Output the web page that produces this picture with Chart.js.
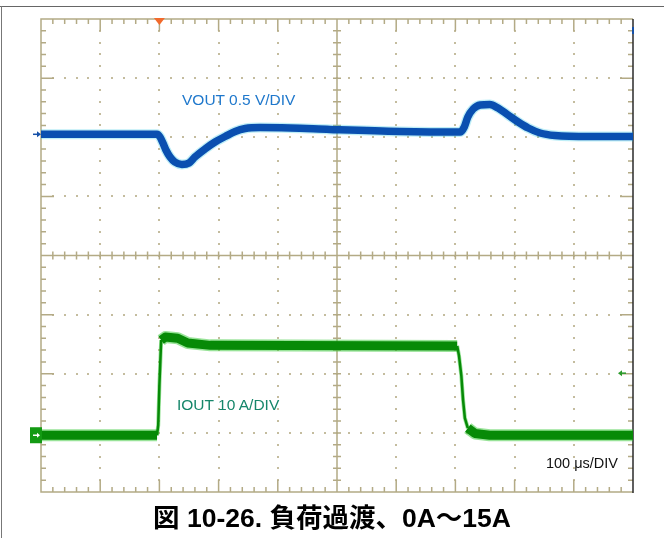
<!DOCTYPE html>
<html lang="ja">
<head>
<meta charset="utf-8">
<title>負荷過渡 0A～15A</title>
<script src="https://cdn.jsdelivr.net/npm/chart.js@4.4.0/dist/chart.umd.min.js"></script>
<style>
  html, body { margin: 0; padding: 0; background: #fff; }
  #wrap { position: relative; width: 664px; height: 538px; overflow: hidden; font-family: "Liberation Sans", Arial, sans-serif; }
  #wrap canvas { position: absolute; left: 0; top: 0; }
  .rule-top { position: absolute; left: 0; top: 6px; width: 664px; height: 1px; background: #666; }
  .rule-left { position: absolute; left: 1px; top: 6px; width: 1px; height: 532px; background: #777; }
  .lbl { position: absolute; white-space: nowrap; line-height: 1; }
  #vlbl { left: 182px; top: 92px; font-size: 15.5px; color: #1f78cc; }
  #ilbl { left: 177px; top: 397px; font-size: 15.5px; color: #16866a; }
  #tlbl { right: 46px; top: 456px; font-size: 14.5px; color: #111; }
  #caption { left: 0; width: 664px; top: 505px; text-align: center; font-size: 26.5px; font-weight: bold; color: #000;
             font-family: "Liberation Sans", "Noto Sans CJK JP", sans-serif; }
</style>
</head>
<body>
<div id="wrap">
  <canvas id="scope" width="664" height="538"></canvas>
  <div class="rule-top"></div>
  <div class="rule-left"></div>
  <div class="lbl" id="vlbl">VOUT 0.5 V/DIV</div>
  <div class="lbl" id="ilbl">IOUT 10 A/DIV</div>
  <div class="lbl" id="tlbl">100 μs/DIV</div>
  <div class="lbl" id="caption">図 10-26. 負荷過渡、0A～15A</div>
</div>
<script>
// time in µs, trigger at 0
const vTime = [-200, -4, 1, 6, 11, 18, 26, 38, 50, 60, 77, 94, 111, 128, 145, 170, 221, 288, 406, 508,
               515, 521, 530, 542, 558, 572, 589, 606, 623, 643, 668, 727, 800];
// VOUT deviation from nominal, mV
const vOut  = [0, 0, -23, -74, -133, -192, -234, -255, -243, -192, -124, -65, -19, 24, 49, 57, 53, 41, 24, 19,
               62, 146, 214, 248, 252, 222, 163, 104, 53, 11, -10, -19, -19];

const iTime = [-200, -4, -2, 0, 3, 10, 31, 48, 86, 503, 506, 510, 513, 516, 521, 533, 558, 800];
// IOUT, A
const iOut  = [0, 0, 1.7, 8.5, 16.1, 16.6, 16.4, 15.6, 15.2, 15.1, 13.5, 10.1, 5.9, 2.9, 1.2, 0.3, 0, 0];

// scope settings
const T_MIN = -200, T_MAX = 800;     // 100 µs/div
const V_PER_DIV = 500;               // mV/div
const I_PER_DIV = 10;                // A/div
const V_OFFSET_DIV = 2.05;           // ch1 ground marker position
const I_OFFSET_DIV = -3.04;          // ch2 ground marker position
const TRIG_LEVEL_A = 10.5;

const vPoints = vTime.map((t, i) => ({ x: t, y: vOut[i] }));
const iPoints = iTime.map((t, i) => ({ x: t, y: iOut[i] }));

// thin line on fast edges, wide noise band elsewhere
function bandWidth(wide, thin) {
  return ctx => {
    const dx = Math.abs(ctx.p1.x - ctx.p0.x), dy = Math.abs(ctx.p1.y - ctx.p0.y);
    return dy > 3 * dx ? thin : wide;
  };
}

const graticule = {
  id: 'graticule',
  beforeDatasetsDraw(chart) {
    const { ctx, chartArea: a } = chart;
    const dx = (a.right - a.left) / 10, dy = (a.bottom - a.top) / 8;
    const cx = a.left + 5 * dx, cy = a.top + 4 * dy;
    ctx.save();

    // dotted division lines
    ctx.fillStyle = '#c4bc9e';
    for (let i = 1; i < 10; i++) {
      if (i === 5) continue;
      const x = Math.round(a.left + i * dx);
      for (let j = 1; j < 40; j++) ctx.fillRect(x - 1, Math.round(a.top + j * dy / 5) - 1, 2, 2);
    }
    for (let k = 1; k < 8; k++) {
      if (k === 4) continue;
      const y = Math.round(a.top + k * dy);
      for (let j = 1; j < 50; j++) ctx.fillRect(Math.round(a.left + j * dx / 5) - 1, y - 1, 2, 2);
    }

    ctx.strokeStyle = '#b3aa85';
    ctx.lineWidth = 1.5;
    ctx.beginPath();
    // center cross
    ctx.moveTo(cx, a.top); ctx.lineTo(cx, a.bottom);
    ctx.moveTo(a.left, cy); ctx.lineTo(a.right, cy);
    for (let j = 1; j < 50; j++) {
      const x = a.left + j * dx / 5;
      ctx.moveTo(x, cy - 4); ctx.lineTo(x, cy + 4);
      const len = j % 5 === 0 ? 12 : 5;
      ctx.moveTo(x, a.top); ctx.lineTo(x, a.top + len);
      ctx.moveTo(x, a.bottom); ctx.lineTo(x, a.bottom - len);
    }
    for (let j = 1; j < 40; j++) {
      const y = a.top + j * dy / 5;
      ctx.moveTo(cx - 4, y); ctx.lineTo(cx + 4, y);
      const len = j % 5 === 0 ? 13 : 5;
      ctx.moveTo(a.left, y); ctx.lineTo(a.left + len, y);
      ctx.moveTo(a.right, y); ctx.lineTo(a.right - len, y);
    }
    ctx.stroke();

    // outer frame
    ctx.beginPath();
    ctx.moveTo(a.right, a.top); ctx.lineTo(a.left, a.top);
    ctx.lineTo(a.left, a.bottom); ctx.lineTo(a.right, a.bottom);
    ctx.stroke();
    ctx.strokeStyle = '#2a2a2a';
    ctx.beginPath();
    ctx.moveTo(a.right, a.top); ctx.lineTo(a.right, a.bottom + 1);
    ctx.stroke();
    ctx.restore();
  },
  afterDatasetsDraw(chart) {
    const { ctx, chartArea: a, scales } = chart;
    ctx.save();

    // trigger position
    const tx = scales.x.getPixelForValue(0);
    ctx.fillStyle = '#f26a2c';
    ctx.beginPath();
    ctx.moveTo(tx - 5.5, a.top - 1); ctx.lineTo(tx + 5.5, a.top - 1); ctx.lineTo(tx, a.top + 6);
    ctx.closePath(); ctx.fill();

    // ch1 ground marker
    const vy = scales.yV.getPixelForValue(0);
    ctx.strokeStyle = '#1550a8'; ctx.fillStyle = '#1550a8'; ctx.lineWidth = 1.5;
    ctx.beginPath(); ctx.moveTo(a.left - 8, vy); ctx.lineTo(a.left - 2, vy); ctx.stroke();
    ctx.beginPath(); ctx.moveTo(a.left, vy); ctx.lineTo(a.left - 4, vy - 3); ctx.lineTo(a.left - 4, vy + 3);
    ctx.closePath(); ctx.fill();
    ctx.fillRect(a.right - 1, a.top + 8, 2, 7);

    // ch2 ground marker
    const iy = scales.yI.getPixelForValue(0);
    ctx.fillStyle = '#139a13';
    ctx.fillRect(a.left - 11, iy - 8, 12, 16);
    ctx.strokeStyle = '#fff'; ctx.fillStyle = '#fff'; ctx.lineWidth = 1.5;
    ctx.beginPath(); ctx.moveTo(a.left - 8, iy); ctx.lineTo(a.left - 3, iy); ctx.stroke();
    ctx.beginPath(); ctx.moveTo(a.left - 1, iy); ctx.lineTo(a.left - 4, iy - 2.5); ctx.lineTo(a.left - 4, iy + 2.5);
    ctx.closePath(); ctx.fill();

    // trigger level
    const ty = scales.yI.getPixelForValue(TRIG_LEVEL_A);
    ctx.strokeStyle = '#2a9a2a'; ctx.fillStyle = '#2a9a2a';
    ctx.beginPath(); ctx.moveTo(a.right - 12, ty); ctx.lineTo(a.right - 7, ty); ctx.stroke();
    ctx.beginPath(); ctx.moveTo(a.right - 15, ty); ctx.lineTo(a.right - 11, ty - 3); ctx.lineTo(a.right - 11, ty + 3);
    ctx.closePath(); ctx.fill();
    ctx.restore();
  }
};

new Chart(document.getElementById('scope'), {
  type: 'line',
  data: {
    datasets: [
      {
        label: 'VOUT', data: vPoints, yAxisID: 'yV', order: 1,
        borderColor: '#0a4fb0', borderWidth: 7.5, cubicInterpolationMode: 'monotone'
      },
      {
        label: 'VOUT edge', data: vPoints, yAxisID: 'yV', order: 2,
        borderColor: 'rgba(40, 200, 230, 0.3)', borderWidth: 10, cubicInterpolationMode: 'monotone'
      },
      {
        label: 'IOUT', data: iPoints, yAxisID: 'yI', order: 1,
        borderColor: '#078a07', borderWidth: 9, tension: 0,
        segment: { borderWidth: bandWidth(9, 2.5) }
      },
      {
        label: 'IOUT edge', data: iPoints, yAxisID: 'yI', order: 2,
        borderColor: 'rgba(50, 200, 50, 0.5)', borderWidth: 12, tension: 0,
        segment: { borderWidth: bandWidth(12, 4) }
      }
    ]
  },
  options: {
    responsive: false,
    animation: false,
    devicePixelRatio: 1,
    layout: { padding: { left: 41, top: 19, right: 31, bottom: 46 } },
    elements: { point: { radius: 0 }, line: { borderJoinStyle: 'round', capBezierPoints: true } },
    datasets: { line: { clip: 0, fill: false } },
    plugins: { legend: { display: false }, tooltip: { enabled: false } },
    scales: {
      x: { type: 'linear', min: T_MIN, max: T_MAX, display: false },
      yV: { type: 'linear', min: (-4 - V_OFFSET_DIV) * V_PER_DIV, max: (4 - V_OFFSET_DIV) * V_PER_DIV, display: false },
      yI: { type: 'linear', min: (-4 - I_OFFSET_DIV) * I_PER_DIV, max: (4 - I_OFFSET_DIV) * I_PER_DIV, display: false }
    }
  },
  plugins: [graticule]
});
</script>
</body>
</html>
